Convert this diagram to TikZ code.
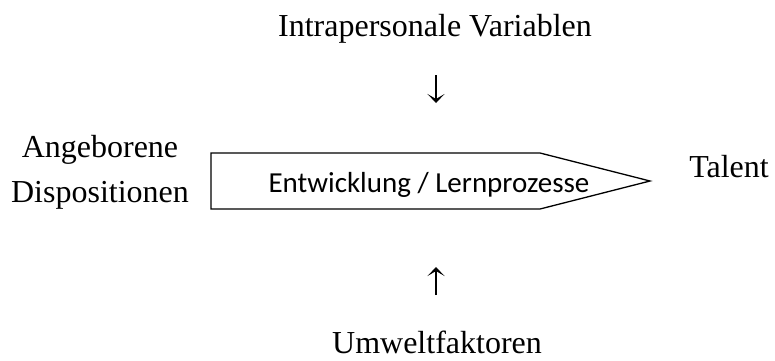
\documentclass[tikz,border=0pt]{standalone}
\usepackage{fontspec}
\usetikzlibrary{arrows.meta}
\setmainfont{Liberation Serif}
\newfontfamily\calfont{Carlito}
\begin{document}
\begin{tikzpicture}[x=1pt,y=-1pt,
  lbl/.style={inner sep=0pt,anchor=base,font=\fontsize{32}{38}\selectfont},
  boxtxt/.style={inner sep=0pt,anchor=base,font=\calfont\fontsize{29}{34}\selectfont},
  outline/.style={draw=black,line width=1.3pt,line join=miter},
  influence/.style={draw=black,line width=1.4pt,-{Stealth[length=9pt,width=17pt,inset=5pt]}}]
\useasboundingbox (0,0) rectangle (775,360);
\draw[outline] (211,153) -- (540,153) -- (650,181) -- (540,209) -- (211,209) -- cycle;
\node[boxtxt] (box) at (429,192) {Entwicklung / Lernprozesse};
\node[lbl] (intra) at (435,36) {Intrapersonale Variablen};
\node[lbl] (anl1) at (100,157) {Angeborene};
\node[lbl] (anl2) at (100,202) {Dispositionen};
\node[lbl] (tal) at (729,177) {Talent};
\node[lbl] (umw) at (437,353) {Umweltfaktoren};
\coordinate (dtop) at (436,75);
\coordinate (dbot) at (436,103);
\coordinate (ubot) at (436,295);
\coordinate (utop) at (436,267);
\draw[influence] (dtop) -- (dbot);
\draw[influence] (ubot) -- (utop);
\end{tikzpicture}
\end{document}
